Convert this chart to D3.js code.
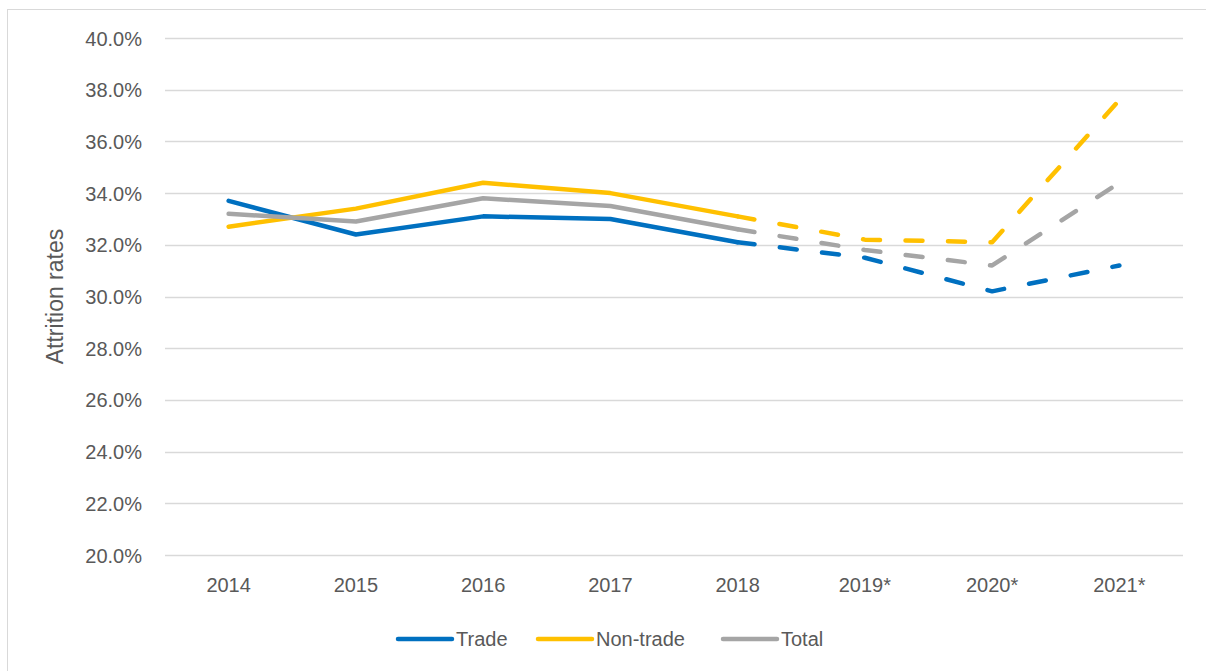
<!DOCTYPE html>
<html>
<head>
<meta charset="utf-8">
<script src="https://cdn.jsdelivr.net/npm/d3@7"></script>
<style>
  body { margin: 0; background: #fff; }
  svg text { font-family: "Liberation Sans", Arial, sans-serif; fill: #595959; }
</style>
</head>
<body>
<div class="board"></div>
<script>
var width = 1206, height = 671

var years = ["2014", "2015", "2016", "2017", "2018", "2019*", "2020*", "2021*"]
var trade = [33.7, 32.4, 33.1, 33.0, 32.1, 31.5, 30.2, 31.2]
var nonTrade = [32.7, 33.4, 34.4, 34.0, 33.1, 32.2, 32.1, 37.6]
var total = [33.2, 32.9, 33.8, 33.5, 32.6, 31.8, 31.2, 34.4]
var yTicks = [20, 22, 24, 26, 28, 30, 32, 34, 36, 38, 40]
// index of the last actual (non-estimated) year
var LAST_ACTUAL = 4

var SERIES = [
    { name: "Trade", values: trade, color: "#0070C0" },
    { name: "Non-trade", values: nonTrade, color: "#FFC000" },
    { name: "Total", values: total, color: "#A5A5A5" }
]

var PLOT = { left: 165, right: 1183, top: 38, bottom: 555 }
var LINE_WIDTH = 4.5

var svg = d3.select(".board")
    .append("svg")
    .attr("width", width)
    .attr("height", height)

// chart border
svg.append("rect")
    .attr("x", 7.5)
    .attr("y", 9.5)
    .attr("width", 1400)
    .attr("height", 800)
    .attr("fill", "none")
    .attr("stroke", "#D9D9D9")
    .attr("stroke-width", 1)

var xScale = d3.scaleBand()
    .domain(years)
    .range([PLOT.left, PLOT.right])

var yScale = d3.scaleLinear()
    .domain([20, 40])
    .range([PLOT.bottom, PLOT.top])

// gridlines
svg.selectAll(".grid")
    .data(yTicks)
    .enter()
    .append("line")
    .classed("grid", true)
    .attr("x1", PLOT.left)
    .attr("x2", PLOT.right)
    .attr("y1", d => Math.round(yScale(d)) + 0.5)
    .attr("y2", d => Math.round(yScale(d)) + 0.5)
    .attr("stroke", "#D9D9D9")
    .attr("stroke-width", 1.5)

var yAxis = svg.append("g")
    .attr("transform", `translate(${PLOT.left}, 0)`)
    .call(d3.axisLeft(yScale).tickValues(yTicks).tickSize(0).tickPadding(23)
        .tickFormat(d => d.toFixed(1) + "%"))
yAxis.select(".domain").remove()
yAxis.selectAll("text")
    .attr("font-size", 20)
    .attr("dy", "0.35em")
    .style("font-family", "Liberation Sans, Arial, sans-serif")
    .attr("fill", "#595959")

var xAxis = svg.append("g")
    .attr("transform", `translate(0, ${PLOT.bottom})`)
    .call(d3.axisBottom(xScale).tickSize(0).tickPadding(0))
xAxis.select(".domain").remove()
xAxis.selectAll("text")
    .attr("font-size", 20)
    .attr("y", 37)
    .attr("dy", 0)
    .style("font-family", "Liberation Sans, Arial, sans-serif")
    .attr("fill", "#595959")

svg.append("text")
    .attr("transform", `translate(63, ${(PLOT.top + PLOT.bottom) / 2}) rotate(-90)`)
    .attr("text-anchor", "middle")
    .attr("font-size", 23)
    .text("Attrition rates")

var line = d3.line()
    .x(d => xScale(d.year) + xScale.bandwidth() / 2)
    .y(d => yScale(d.value))

SERIES.forEach(s => {
    var pts = years.map((y, i) => ({ year: y, value: s.values[i] }))
    svg.append("path")
        .datum(pts.slice(0, LAST_ACTUAL + 1))
        .attr("d", line)
        .attr("fill", "none")
        .attr("stroke", s.color)
        .attr("stroke-width", LINE_WIDTH)
        .attr("stroke-linejoin", "round")
        .attr("stroke-linecap", "round")
    svg.append("path")
        .datum(pts.slice(LAST_ACTUAL))
        .attr("d", line)
        .attr("fill", "none")
        .attr("stroke", s.color)
        .attr("stroke-width", LINE_WIDTH)
        .attr("stroke-dasharray", "17,25.5")
        .attr("stroke-linejoin", "round")
        .attr("stroke-linecap", "round")
})

// legend
var LEGEND_X = [397, 537, 722]
var LEGEND_Y = 639
var legend = svg.selectAll(".legendItem")
    .data(SERIES)
    .enter()
    .append("g")
    .classed("legendItem", true)
    .attr("transform", (d, i) => `translate(${LEGEND_X[i]}, ${LEGEND_Y})`)

legend.append("line")
    .attr("x1", 1)
    .attr("x2", 55)
    .attr("stroke", d => d.color)
    .attr("stroke-width", LINE_WIDTH)
    .attr("stroke-linecap", "round")

legend.append("text")
    .attr("x", 59)
    .attr("dy", "0.35em")
    .attr("font-size", 20)
    .text(d => d.name)
</script>
</body>
</html>
